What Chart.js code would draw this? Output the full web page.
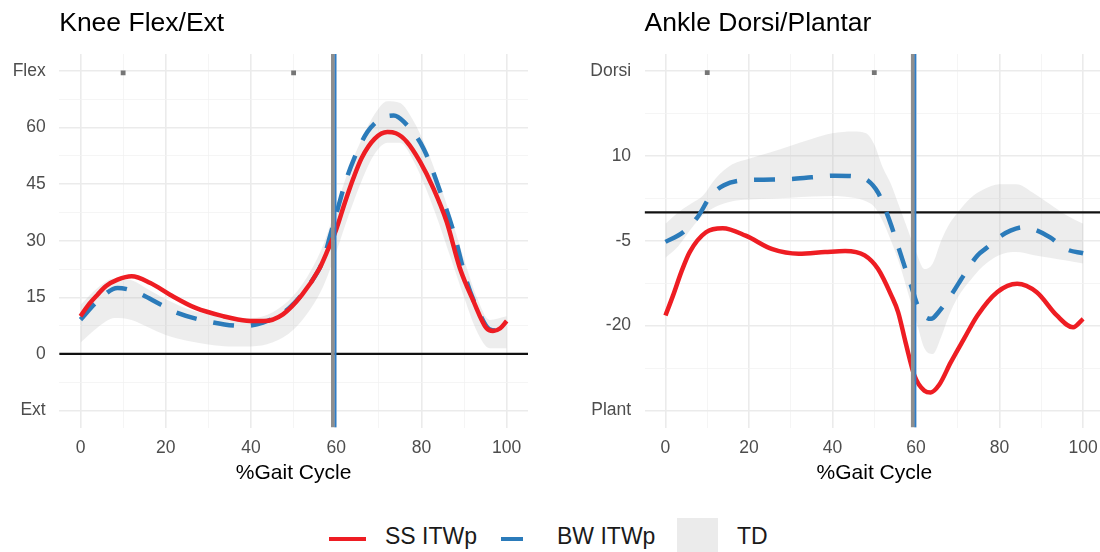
<!DOCTYPE html>
<html>
<head>
<meta charset="utf-8">
<script src="https://cdn.jsdelivr.net/npm/chart.js@4.4.1/dist/chart.umd.min.js"></script>
<style>
html,body{margin:0;padding:0;background:#fff;width:1100px;height:552px;overflow:hidden;position:relative;font-family:"Liberation Sans",Arial,sans-serif;}
canvas{position:absolute;top:0;}
#knee{left:0;}
#ankle{left:560px;}
.lg{position:absolute;}
.lt{position:absolute;font-size:23px;line-height:23px;color:#1a1a1a;white-space:nowrap;}
</style>
</head>
<body>
<canvas id="knee" width="532" height="500" style="width:532px;height:500px"></canvas>
<canvas id="ankle" width="548" height="500" style="width:548px;height:500px"></canvas>

<div class="lg" style="left:329px;top:536.5px;width:37px;height:4px;background:#EE1D23"></div>
<div class="lt" style="left:385px;top:525px">SS ITWp</div>
<div class="lg" style="left:501px;top:536.5px;width:22px;height:4.5px;background:#2B7BBA"></div>
<div class="lt" style="left:557px;top:525px">BW ITWp</div>
<div class="lg" style="left:677px;top:518px;width:41px;height:41px;background:#EBEBEB"></div>
<div class="lt" style="left:737px;top:525px">TD</div>

<script>
// ---------- DATA ----------
const xTicks = [0, 20, 40, 60, 80, 100];

const kneeYTicks  = [-15, 0, 15, 30, 45, 60, 75];
const kneeYLabels = ['Ext', '0', '15', '30', '45', '60', 'Flex'];
const ankleYTicks  = [-35, -20, -5, 10, 25];
const ankleYLabels = ['Plant', '-20', '-5', '10', 'Dorsi'];

// Knee – SS ITWp
const kneeSS_x = [0, 2, 4, 6, 8.7, 12, 16.4, 21, 27, 33.5, 39, 43, 47.5, 52, 56, 58, 60, 62, 64, 66, 69, 72, 74, 76.6, 79.7, 82.8, 85.9, 89, 92.2, 95.2, 96.8, 98.5, 100];
const kneeSS_y = [10.0, 13.2, 15.7, 18.0, 19.7, 20.6, 18.8, 15.7, 12.2, 10.0, 8.8, 8.7, 10.5, 15.7, 22.5, 27.5, 33.0, 40.0, 46.5, 52.0, 57.0, 58.8, 58.5, 56.2, 50.9, 43.9, 35.1, 22.8, 14.0, 6.9, 6.1, 6.8, 8.7];
// Knee – BW ITWp
const kneeBW_x = [0, 4, 8.7, 12.6, 18.8, 22, 29.6, 38.2, 42.8, 49, 53.7, 56.8, 58.5, 60, 62, 64.2, 67.3, 70.4, 73.5, 75.9, 80.5, 84.4, 87.5, 90.6, 93.7, 96, 98, 100];
const kneeBW_y = [9.1, 14.0, 17.5, 16.6, 13.1, 11.2, 8.7, 7.4, 8.3, 12.2, 18.4, 24.5, 31.0, 37.0, 45.0, 51.8, 58.8, 62.3, 63.2, 61.5, 54.4, 43.0, 32.5, 19.3, 10.5, 6.5, 6.2, 7.5];
// Knee – TD band
const kneeTD_x  = [0, 4, 8, 12, 16, 20, 25, 30, 35, 40, 45, 50, 54, 57, 60, 63, 66, 69, 72, 75, 78, 81, 84, 87, 90, 93, 96, 100];
const kneeTD_lo = [3, 7, 9.5, 9, 7, 5, 3.5, 2.5, 2, 2, 3, 6.5, 12, 18, 27, 37, 46, 53, 56, 56, 51.5, 44, 35, 25, 15, 6, 1.5, 1.5];
const kneeTD_hi = [13, 17.5, 20, 19.5, 17, 14.5, 12, 10.5, 9.5, 9.5, 11, 15.5, 22, 29, 39, 49, 57, 63.5, 67, 66.5, 62, 55, 46, 36, 25, 15, 9, 10];

// Ankle – SS ITWp
const ankleSS_x = [0, 1.8, 3.8, 5.8, 9.7, 13.7, 19.2, 25.6, 31.9, 38.2, 43, 47.7, 50.9, 54.1, 55.7, 57.5, 59.6, 62, 63.5, 65.5, 68.3, 71.5, 74.7, 79.4, 84.2, 88.9, 93.7, 97.6, 100];
const ankleSS_y = [-18.2, -14.7, -10.5, -7.0, -3.5, -2.8, -4.1, -6.5, -7.3, -7.0, -6.8, -7.6, -10.0, -14.7, -17.6, -23.0, -28.8, -31.5, -31.8, -30.5, -26.5, -22.3, -18.2, -14.1, -12.6, -14.1, -18.2, -20.3, -18.8];
// Ankle – BW ITWp
const ankleBW_x = [0, 4.2, 7.7, 10.9, 14, 17.6, 23.5, 29.5, 35, 40.6, 45, 48.5, 50.9, 52.5, 54.1, 57.2, 58.8, 60.4, 62, 63.6, 65.5, 68.3, 71.5, 74.7, 77, 80, 82.6, 85.7, 89, 92.1, 96, 100];
const ankleBW_y = [-5.2, -3.5, -0.8, 3.0, 4.8, 5.6, 5.8, 5.9, 6.2, 6.5, 6.4, 5.6, 3.5, 0.8, -2.4, -9.4, -12.9, -16.5, -18.3, -18.8, -17.5, -14.7, -11.0, -7.6, -6.2, -4.3, -3.2, -2.6, -3.2, -4.4, -6.5, -7.2];
// Ankle – TD band
const ankleTD_x  = [0, 3, 6, 9, 12, 16, 20, 25, 30, 35, 40, 45, 48, 50, 52, 54, 56, 58, 60, 62, 64, 66, 68, 70, 73, 76, 80, 84, 88, 92, 96, 100];
const ankleTD_lo = [-8, -6, -3, -0.5, 1, 2, 2.3, 2.4, 2.6, 2.8, 2.9, 2.6, 2, 1, -1.5, -5, -9, -14, -19, -24, -25, -22, -18, -15, -12, -9.5, -7.5, -7, -7.5, -8, -8.5, -9];
const ankleTD_hi = [-2, 0, 1.5, 3, 6, 8.5, 9.5, 10.6, 11.8, 13, 14, 14.3, 14, 12, 8, 5, 1, -3, -7, -10, -9, -5, -2, 0, 2.5, 4, 5, 5, 3.5, 1.5, -0.5, -2];

// Toe-off lines and event markers
const toeOffTD = 59.2;
const toeOffBW = 59.8;
const eventX = [10, 50];
const kneeEventY = 74.5;
const ankleEventY = 24.7;

// ---------- CHARTS ----------
const FONT = '"Liberation Sans", Arial, sans-serif';
const RED = '#EE1D23', BLUE = '#2B7BBA', BAND = 'rgba(185,185,185,0.25)';

function pts(xs, ys) { return xs.map((x, i) => ({x: x, y: ys[i]})); }
function withMinor(m) {
  const out = [];
  for (let i = 0; i < m.length; i++) { out.push(m[i]); if (i < m.length - 1) out.push((m[i] + m[i + 1]) / 2); }
  return out;
}
function near(list, v) { return list.findIndex(m => Math.abs(m - v) < 1e-6); }

function buildChart(id, c) {
  const gridCol = (maj) => maj ? '#EBEBEB' : '#F3F3F3';
  const gridW = (maj) => maj ? 1.6 : 0.8;
  new Chart(document.getElementById(id), {
    type: 'line',
    data: {
      datasets: [
        {label: 'toeTD', data: [{x: toeOffTD, y: c.yMin}, {x: toeOffTD, y: c.yMax}], borderColor: '#8E8E8E', borderWidth: 3.6, pointRadius: 0, order: 0},
        {label: 'toeBW', data: [{x: toeOffBW, y: c.yMin}, {x: toeOffBW, y: c.yMax}], borderColor: '#2C7CC8', borderWidth: 2.2, pointRadius: 0, order: 0},
        {label: 'events', data: eventX.map(x => ({x: x, y: c.eventY})), showLine: false, pointStyle: 'rect', pointRadius: 3.4, backgroundColor: '#767676', borderWidth: 0, order: 1},
        {label: 'SS ITWp', data: pts(c.ssX, c.ssY), borderColor: RED, borderWidth: 4.5, pointRadius: 0, cubicInterpolationMode: 'monotone', borderCapStyle: 'butt', order: 2},
        {label: 'BW ITWp', data: pts(c.bwX, c.bwY), borderColor: BLUE, borderWidth: 4.5, borderDash: [21, 17], borderCapStyle: 'butt', pointRadius: 0, cubicInterpolationMode: 'monotone', order: 3},
        {label: 'zero', data: [{x: -5, y: 0}, {x: 105, y: 0}], borderColor: '#111', borderWidth: 2.2, pointRadius: 0, order: 4},
        {label: 'TD hi', data: pts(c.tdX, c.tdHi), borderWidth: 0, pointRadius: 0, backgroundColor: BAND, fill: '+1', cubicInterpolationMode: 'monotone', order: 5},
        {label: 'TD lo', data: pts(c.tdX, c.tdLo), borderWidth: 0, pointRadius: 0, fill: false, cubicInterpolationMode: 'monotone', order: 6}
      ]
    },
    options: {
      responsive: false, animation: false, events: [],
      layout: {padding: 0},
      plugins: {
        legend: {display: false}, tooltip: {enabled: false},
        title: {display: true, text: c.title, align: 'start', fullSize: false, color: '#000',
                font: {family: FONT, size: 26.5, weight: 'normal'}, padding: {top: 8.1, bottom: 14.1}}
      },
      scales: {
        x: {
          type: 'linear', min: -5, max: 105,
          afterBuildTicks: s => { s.ticks = withMinor(xTicks).map(v => ({value: v})); },
          afterFit: s => { s.height = 72.5; },
          ticks: {padding: 10, autoSkip: false, maxRotation: 0, color: '#4D4D4D', font: {family: FONT, size: 17.5},
                  callback: v => near(xTicks, v) >= 0 ? String(v) : ''},
          grid: {drawTicks: false,
                 color: ctx => gridCol(ctx.tick && near(xTicks, ctx.tick.value) >= 0),
                 lineWidth: ctx => gridW(ctx.tick && near(xTicks, ctx.tick.value) >= 0)},
          border: {display: false},
          title: {display: true, text: '%Gait Cycle', color: '#000', font: {family: FONT, size: 21}, padding: {top: 4, bottom: 14}}
        },
        y: {
          type: 'linear', min: c.yMin, max: c.yMax,
          afterBuildTicks: s => { s.ticks = withMinor(c.yTicks).map(v => ({value: v})); },
          afterFit: s => { s.width = c.yAxisWidth; },
          ticks: {padding: 13.5, autoSkip: false, color: '#4D4D4D', font: {family: FONT, size: 17.5},
                  callback: v => { const i = near(c.yTicks, v); return i >= 0 ? c.yLabels[i] : ''; }},
          grid: {drawTicks: false,
                 color: ctx => gridCol(ctx.tick && near(c.yTicks, ctx.tick.value) >= 0),
                 lineWidth: ctx => gridW(ctx.tick && near(c.yTicks, ctx.tick.value) >= 0)},
          border: {display: false}
        }
      }
    }
  });
}

buildChart('knee', {
  title: 'Knee Flex/Ext', yMin: -19.5, yMax: 79.5, yTicks: kneeYTicks, yLabels: kneeYLabels, yAxisWidth: 59.2,
  ssX: kneeSS_x, ssY: kneeSS_y, bwX: kneeBW_x, bwY: kneeBW_y,
  tdX: kneeTD_x, tdLo: kneeTD_lo, tdHi: kneeTD_hi, eventY: kneeEventY
});
buildChart('ankle', {
  title: 'Ankle Dorsi/Plantar', yMin: -38, yMax: 28, yTicks: ankleYTicks, yLabels: ankleYLabels, yAxisWidth: 84.6,
  ssX: ankleSS_x, ssY: ankleSS_y, bwX: ankleBW_x, bwY: ankleBW_y,
  tdX: ankleTD_x, tdLo: ankleTD_lo, tdHi: ankleTD_hi, eventY: ankleEventY
});
</script>
</body>
</html>
